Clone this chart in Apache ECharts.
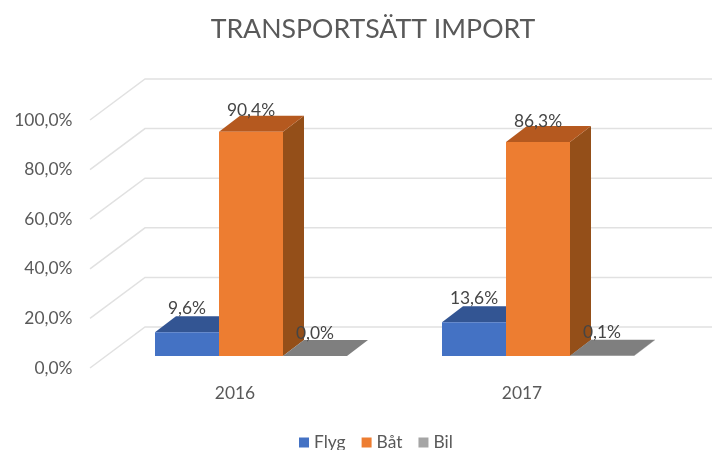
<!DOCTYPE html>
<html>
<head>
<meta charset="utf-8">
<script src="https://cdn.jsdelivr.net/npm/echarts@6/dist/echarts.min.js"></script>
<style>
  html, body { margin: 0; background: #fff; }
  #chart { width: 712px; height: 450px; }
</style>
</head>
<body>
<div id="chart"></div>
<script>
const titleText = 'TRANSPORTSÄTT IMPORT'
const categories = ['2016', '2017']
const seriesNames = ['Flyg', 'Båt', 'Bil']
const flyg = [9.6, 13.6]
const bat = [90.4, 86.3]
const bil = [0.0, 0.1]
const ticks = [0, 20, 40, 60, 80, 100]

const FONT = 'Lato'
const TEXT = '#595959'
const DEPTH_X = 21, DEPTH_Y = 16 // depth of a bar
const BAR_SHARE = 64 / 287

function pct (v) {
  return v.toFixed(1).replace('.', ',') + '%'
}

// a 3d bar: front, top and side faces, plus its label
function bar3d (slot, colors, labelGap) {
  return function (params, api) {
    const base = api.coord([api.value(0), 0])
    const top = api.coord([api.value(0), api.value(1)])
    const w = api.size([1, 0])[0] * BAR_SHARE
    const x0 = base[0] + (slot - 1.5) * w
    const x1 = x0 + w
    const y0 = base[1]
    const y1 = top[1]
    const dx = DEPTH_X, dy = DEPTH_Y
    const style = c => ({ fill: c })
    return {
      type: 'group',
      children: [
        { type: 'polygon', shape: { points: [[x1, y1], [x1 + dx, y1 - dy], [x1 + dx, y0 - dy], [x1, y0]] }, style: style(colors[2]) },
        { type: 'polygon', shape: { points: [[x0, y1], [x0 + dx, y1 - dy], [x1 + dx, y1 - dy], [x1, y1]] }, style: style(colors[1]) },
        { type: 'rect', shape: { x: x0, y: y1, width: w, height: y0 - y1 }, style: style(colors[0]) },
        {
          type: 'text',
          z2: 10,
          style: {
            x: (x0 + x1) / 2,
            y: y1 - labelGap,
            text: pct(api.value(1)),
            fill: '#454545',
            font: '17.4px ' + FONT,
            align: 'center',
            verticalAlign: 'middle'
          }
        }
      ]
    }
  }
}

// wall lines: floor edge up to the back wall, then across it
function wallLine (params, api) {
  const p = api.coord([0, api.value(0)])
  const x = api.coord([0, 0])[0] - api.size([1, 0])[0] / 2
  const y = p[1]
  return {
    type: 'polyline',
    shape: { points: [[x - 17.5, y + 12], [x + 37.5, y - 29], [api.getWidth(), y - 29]] },
    style: { fill: null, stroke: '#e1e1e1', lineWidth: 1.5 }
  }
}

const chart = echarts.init(document.getElementById('chart'))
chart.setOption({
  backgroundColor: '#fff',
  animation: false,
  title: {
    text: titleText,
    left: 368,
    top: 11,
    textAlign: 'center',
    textStyle: { color: TEXT, fontFamily: FONT, fontSize: 26.7, fontWeight: 'normal' }
  },
  legend: {
    data: seriesNames,
    left: 299,
    top: 434,
    padding: 0,
    icon: 'rect',
    itemWidth: 10,
    itemHeight: 10,
    itemGap: 16,
    textStyle: { color: TEXT, fontFamily: FONT, fontSize: 17.4 }
  },
  grid: { left: 107.5, right: 30.5, top: 108, bottom: 94 },
  xAxis: {
    type: 'category',
    data: categories,
    axisLine: { show: false },
    axisTick: { show: false },
    axisLabel: {
      color: TEXT,
      fontFamily: FONT,
      fontSize: 17.4,
      margin: 29,
      padding: [0, 32, 0, 0]
    }
  },
  yAxis: {
    type: 'value',
    min: 0,
    max: 100,
    interval: 20,
    axisLine: { show: false },
    axisTick: { show: false },
    splitLine: { show: false },
    axisLabel: {
      color: TEXT,
      fontFamily: FONT,
      fontSize: 17.4,
      margin: 35,
      verticalAlign: 'top',
      lineHeight: 24,
      formatter: pct
    }
  },
  series: [
    {
      type: 'custom',
      name: 'wall',
      silent: true,
      z: 1,
      data: ticks.map(v => [v]),
      encode: { y: 0 },
      renderItem: wallLine
    },
    {
      type: 'custom',
      name: seriesNames[0],
      z: 2,
      itemStyle: { color: '#4472C4' },
      data: flyg.map((v, i) => [i, v]),
      encode: { x: 0, y: 1 },
      renderItem: bar3d(0, ['#4472C4', '#335593', '#2a4a80'], 24)
    },
    {
      type: 'custom',
      name: seriesNames[1],
      z: 3,
      itemStyle: { color: '#ED7D31' },
      data: bat.map((v, i) => [i, v]),
      encode: { x: 0, y: 1 },
      renderItem: bar3d(1, ['#ED7D31', '#B5591F', '#944F19'], 21)
    },
    {
      type: 'custom',
      name: seriesNames[2],
      z: 4,
      itemStyle: { color: '#A5A5A5' },
      data: bil.map((v, i) => [i, v]),
      encode: { x: 0, y: 1 },
      renderItem: bar3d(2, ['#A5A5A5', '#7F7F7F', '#6e6e6e'], 23)
    }
  ]
})
</script>
</body>
</html>
